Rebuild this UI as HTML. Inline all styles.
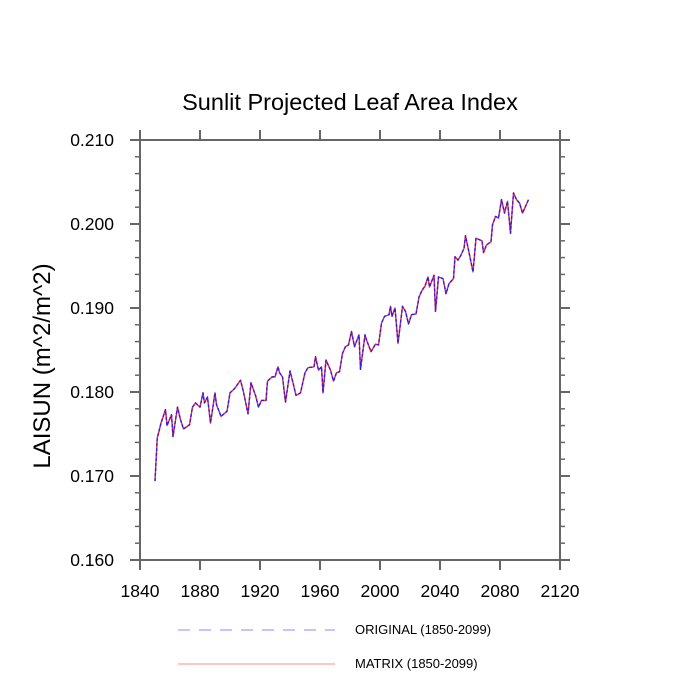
<!DOCTYPE html>
<html><head><meta charset="utf-8"><style>
html,body{margin:0;padding:0;background:#fff;}
svg{display:block;font-family:"Liberation Sans",sans-serif;}
</style></head><body>
<svg id="chart" width="700" height="700" viewBox="0 0 700 700">
<text x="350" y="110" text-anchor="middle" font-size="23.5" fill="#000">Sunlit Projected Leaf Area Index</text>
<text transform="translate(50,366) rotate(-90)" text-anchor="middle" font-size="24" fill="#000">LAISUN  (m^2/m^2)</text>
<g id="axes"></g>
<g id="series"></g>
<g id="legend">
<line x1="178" y1="630" x2="335" y2="630" stroke="#8888ff" stroke-width="1" stroke-dasharray="12,9"/>
<text x="355" y="634" font-size="13" fill="#000">ORIGINAL (1850-2099)</text>
<line x1="178" y1="664" x2="335" y2="664" stroke="#ff8888" stroke-width="1"/>
<text x="355" y="668" font-size="13" fill="#000">MATRIX (1850-2099)</text>
</g>
</svg>
<script>
const years = [1850,1851.5,1854,1857,1858,1861,1862,1865,1867,1869,1873,1875,1877,1880,1882,1883,1885,1887,1890,1891,1894,1898,1900,1903,1907,1909,1912,1914,1917,1919,1921,1924,1925,1928,1930,1932,1933,1935,1937,1940,1942,1944,1947,1950,1952,1956,1957,1959,1961,1962,1964,1967,1969,1971,1973,1975,1977,1979,1981,1983,1986,1987,1990,1991,1994,1997,1999,2001,2003,2006,2007,2008,2010,2012,2015,2017,2019,2021,2024,2026,2028,2030,2032,2033,2036,2037,2039,2042,2044,2046,2049,2050,2052,2054,2056,2057,2059,2062,2064,2068,2069,2071,2074,2075,2077,2079,2081,2083,2085,2087,2089,2091,2093,2095,2097,2099];
const values = [0.1694,0.1745,0.1763,0.1779,0.1760,0.1773,0.1747,0.1782,0.1767,0.1756,0.1761,0.1782,0.1787,0.1782,0.1799,0.1787,0.1794,0.1763,0.1799,0.1785,0.1771,0.1777,0.1799,0.1804,0.1814,0.1800,0.1774,0.1811,0.1796,0.1782,0.1790,0.1790,0.1813,0.1818,0.1818,0.1830,0.1823,0.1818,0.1788,0.1825,0.1811,0.1796,0.1799,0.1823,0.1829,0.1830,0.1842,0.1826,0.1830,0.1799,0.1838,0.1826,0.1813,0.1823,0.1824,0.1846,0.1854,0.1856,0.1872,0.1854,0.1868,0.1827,0.1868,0.1862,0.1848,0.1857,0.1856,0.1882,0.1890,0.1892,0.1902,0.1890,0.1900,0.1858,0.1902,0.1896,0.1881,0.1892,0.1893,0.1913,0.1921,0.1926,0.1937,0.1925,0.1939,0.1896,0.1937,0.1935,0.1917,0.1929,0.1935,0.1961,0.1957,0.1963,0.1971,0.1986,0.1969,0.1943,0.1983,0.1980,0.1966,0.1975,0.1979,0.1999,0.2009,0.2007,0.2029,0.2013,0.2027,0.1989,0.2037,0.2029,0.2025,0.2013,0.2021,0.2029];
const xTicks = [1840,1880,1920,1960,2000,2040,2080,2120];
const yTicks = [0.160,0.170,0.180,0.190,0.200,0.210];
const yMinor = [0.162,0.164,0.166,0.168,0.172,0.174,0.176,0.178,0.182,0.184,0.186,0.188,0.192,0.194,0.196,0.198,0.202,0.204,0.206,0.208];
const L=140,R=560,T=140,B=560;
function xs(v){return L+(v-1840)/(2120-1840)*(R-L);}
function ys(v){return B-(v-0.160)/(0.210-0.160)*(B-T);}
const NS='http://www.w3.org/2000/svg';
function mk(tag,attrs,parent){const e=document.createElementNS(NS,tag);for(const k in attrs)e.setAttribute(k,attrs[k]);parent.appendChild(e);return e;}
const ax=document.getElementById('axes');
const AC='#666';
let fr=mk('rect',{x:L,y:T,width:R-L,height:B-T,fill:'none',stroke:AC,'stroke-width':2},ax);


xTicks.forEach(v=>{
  const x=xs(v);
  let t=mk('line',{x1:x,y1:B,x2:x,y2:B+10,stroke:AC,'stroke-width':2},ax);
  
  
  let t2=mk('line',{x1:x,y1:T,x2:x,y2:T-10,stroke:AC,'stroke-width':2},ax);
  
  
  let l=mk('text',{x:x,y:B+37,'text-anchor':'middle','font-size':17.5,fill:'#000'},ax);
  l.textContent=v;
  
  
});
yTicks.forEach(v=>{
  const y=ys(v);
  let t=mk('line',{x1:L-10,y1:y,x2:L,y2:y,stroke:AC,'stroke-width':2},ax);
  
  
  let t2=mk('line',{x1:R,y1:y,x2:R+10,y2:y,stroke:AC,'stroke-width':2},ax);
  
  
  let l=mk('text',{x:L-26,y:y+6,'text-anchor':'end','font-size':17.5,fill:'#000'},ax);
  l.textContent=v.toFixed(3);
  
  
});
yMinor.forEach(v=>{
  const y=ys(v);
  let t=mk('line',{x1:L-5,y1:y,x2:L,y2:y,stroke:AC,'stroke-width':1.5},ax);
  
  
  let t2=mk('line',{x1:R,y1:y,x2:R+5,y2:y,stroke:AC,'stroke-width':1.5},ax);
  
  
});
const pts=years.map((yr,i)=>xs(yr).toFixed(2)+','+ys(values[i]).toFixed(2)).join(' ');
const sg=document.getElementById('series');
let red=mk('polyline',{points:pts,fill:'none',stroke:'#ff2020','stroke-width':1.4,'stroke-linejoin':'round'},sg);


let blue=mk('polyline',{points:pts,fill:'none',stroke:'#2020ff','stroke-width':1.4,'stroke-dasharray':'3,2','stroke-linejoin':'round'},sg);


</script>
</body></html>
